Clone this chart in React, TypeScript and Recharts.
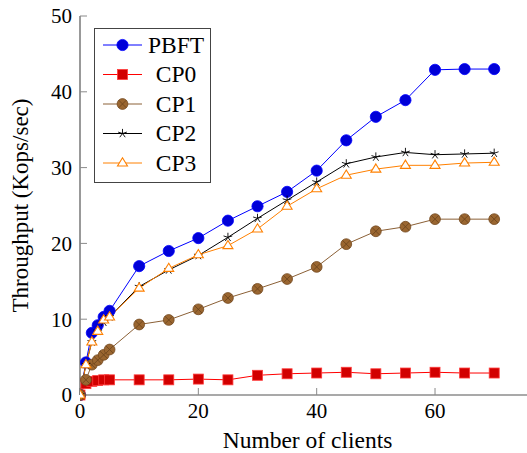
import React from "react";
import {
  LineChart,
  Line,
  XAxis,
  YAxis,
  Legend,
  Label,
} from "recharts";

const clients = [0, 1, 2, 3, 4, 5, 10, 15, 20, 25, 30, 35, 40, 45, 50, 55, 60, 65, 70];
const pbft = [0, 4.3, 8.2, 9.2, 10.3, 11.1, 17.0, 19.0, 20.7, 23.0, 24.9, 26.8, 29.6, 33.6, 36.7, 38.9, 42.9, 43.0, 43.0];
const cp0 = [0, 1.5, 1.8, 1.9, 2.0, 2.0, 2.0, 2.0, 2.1, 2.0, 2.6, 2.8, 2.9, 3.0, 2.8, 2.9, 3.0, 2.9, 2.9];
const cp1 = [0, 2.0, 4.0, 4.6, 5.3, 6.0, 9.3, 9.9, 11.3, 12.8, 14.0, 15.3, 16.9, 19.9, 21.6, 22.2, 23.2, 23.2, 23.2];
const cp2 = [0, 4.0, 7.0, 8.4, 9.6, 10.3, 14.3, 16.5, 18.4, 20.8, 23.3, 25.7, 28.1, 30.5, 31.4, 32.0, 31.7, 31.8, 31.9];
const cp3 = [0, 4.0, 7.0, 8.4, 9.9, 10.3, 14.1, 16.7, 18.5, 19.7, 21.9, 24.9, 27.2, 29.0, 29.8, 30.3, 30.3, 30.6, 30.7];

const xTicks = [0, 20, 40, 60];
const yTicks = [0, 10, 20, 30, 40, 50];

const FONT = "'Liberation Serif', 'DejaVu Serif', serif";
const AXIS = "#555";
const TICK = "#8a8a8a";

type Kind = "circle" | "square" | "otimes" | "star" | "triangle";

const series: { key: string; name: string; color: string; kind: Kind }[] = [
  { key: "pbft", name: "PBFT", color: "#0000ff", kind: "circle" },
  { key: "cp0", name: "CP0", color: "#ff0000", kind: "square" },
  { key: "cp1", name: "CP1", color: "#8b6036", kind: "otimes" },
  { key: "cp2", name: "CP2", color: "#000000", kind: "star" },
  { key: "cp3", name: "CP3", color: "#ff8000", kind: "triangle" },
];

const data = clients.map((x, i) => ({
  x,
  pbft: pbft[i],
  cp0: cp0[i],
  cp1: cp1[i],
  cp2: cp2[i],
  cp3: cp3[i],
}));

function Marker({ kind, cx, cy }: { kind: Kind; cx: number; cy: number }) {
  if (cx == null || cy == null) return null;
  switch (kind) {
    case "circle":
      return <circle cx={cx} cy={cy} r={5.6} fill="#0000d8" stroke="#0000ff" strokeWidth={0.8} />;
    case "square":
      return (
        <rect x={cx - 5} y={cy - 5} width={10} height={10} fill="#d20000" stroke="#ff3a3a" strokeWidth={0.8} />
      );
    case "otimes": {
      const d = 3.8;
      return (
        <g>
          <circle cx={cx} cy={cy} r={5.4} fill="#9a6630" stroke="#74491f" strokeWidth={0.8} />
          <path
            d={`M${cx - d} ${cy - d}L${cx + d} ${cy + d}M${cx - d} ${cy + d}L${cx + d} ${cy - d}`}
            stroke="#6a421c"
            strokeWidth={0.8}
          />
        </g>
      );
    }
    case "star": {
      let p = "";
      for (let k = 0; k < 5; k++) {
        const a = -Math.PI / 2 + (k * 2 * Math.PI) / 5;
        p += `M${cx} ${cy}L${cx + 4.6 * Math.cos(a)} ${cy + 4.6 * Math.sin(a)}`;
      }
      return <path d={p} stroke="#000" strokeWidth={0.9} fill="none" />;
    }
    case "triangle":
      return (
        <polygon
          points={`${cx},${cy - 5.2} ${cx + 5},${cy + 3} ${cx - 5},${cy + 3}`}
          fill="#fff"
          stroke="#ff8000"
          strokeWidth={1.1}
        />
      );
  }
  return null;
}

function LegendBox() {
  return (
    <div
      style={{
        width: 115,
        height: 153,
        border: "1px solid #444",
        background: "#fff",
      }}
    >
      <svg width={115} height={153}>
        {series.map((s, i) => {
          const cy = 16 + i * 29.5;
          return (
            <g key={s.key}>
              <line x1={8} x2={47} y1={cy} y2={cy} stroke={s.color} strokeWidth={1} />
              <Marker kind={s.kind} cx={27.5} cy={cy} />
              <text
                x={81}
                y={cy + 7.8}
                textAnchor="middle"
                fontFamily={FONT}
                fontSize={23.5}
                fill="#000"
              >
                {s.name}
              </text>
            </g>
          );
        })}
      </svg>
    </div>
  );
}

export default function App() {
  return (
    <div
      style={{
        position: "absolute",
        left: 0,
        top: 0,
        width: 527,
        height: 453,
        overflow: "hidden",
        background: "#fff",
      }}
    >
      <LineChart
        width={540}
        height={453}
        data={data}
        margin={{ top: 16, right: 10.3, left: 0, bottom: 0 }}
      >
        <XAxis
          dataKey="x"
          type="number"
          domain={[0, 76]}
          ticks={xTicks}
          height={58}
          tickSize={-7}
          tickMargin={15.4}
          axisLine={{ stroke: AXIS, strokeWidth: 1.2 }}
          tickLine={{ stroke: TICK }}
          tick={{ fill: "#000", fontSize: 21, fontFamily: FONT }}
          allowDataOverflow
        >
          <Label
            content={() => (
              <text
                x={307.5}
                y={448}
                textAnchor="middle"
                fontSize={23.5}
                fontFamily={FONT}
                fill="#000"
              >
                Number of clients
              </text>
            )}
          />
        </XAxis>
        <XAxis
          xAxisId="top"
          orientation="top"
          dataKey="x"
          type="number"
          domain={[0, 76]}
          ticks={xTicks}
          height={0}
          tickSize={-7}
          tickFormatter={() => ""}
          axisLine={{ stroke: AXIS, strokeWidth: 1.2 }}
          tickLine={{ stroke: TICK }}
        />
        <YAxis
          type="number"
          domain={[0, 50]}
          ticks={yTicks}
          width={80}
          tickSize={-7}
          tickMargin={15}
          axisLine={{ stroke: AXIS, strokeWidth: 1.2 }}
          tickLine={{ stroke: TICK }}
          tick={{ fill: "#000", fontSize: 21, fontFamily: FONT }}
        >
          <Label
            content={() => (
              <text
                x={28}
                y={205.5}
                transform="rotate(-90 28 205.5)"
                textAnchor="middle"
                fontSize={23}
                fontFamily={FONT}
                fill="#000"
              >
                Throughput (Kops/sec)
              </text>
            )}
          />
        </YAxis>
        <YAxis
          yAxisId="right"
          orientation="right"
          type="number"
          domain={[0, 50]}
          ticks={yTicks}
          width={0}
          tickSize={-7}
          tickFormatter={() => ""}
          axisLine={{ stroke: AXIS, strokeWidth: 1.2 }}
          tickLine={{ stroke: TICK }}
        />
        <Legend
          layout="horizontal"
          align="center"
          verticalAlign="middle"
          wrapperStyle={{ left: 94, top: 28, width: 117 }}
          content={() => <LegendBox />}
        />
        {series.map((s) => (
          <Line
            key={s.key}
            dataKey={s.key}
            name={s.name}
            type="linear"
            stroke={s.color}
            strokeWidth={1}
            isAnimationActive={false}
            dot={(p: any) => <Marker key={`${s.key}-${p.index}`} kind={s.kind} cx={p.cx} cy={p.cy} />}
            activeDot={false}
          />
        ))}
      </LineChart>
    </div>
  );
}
